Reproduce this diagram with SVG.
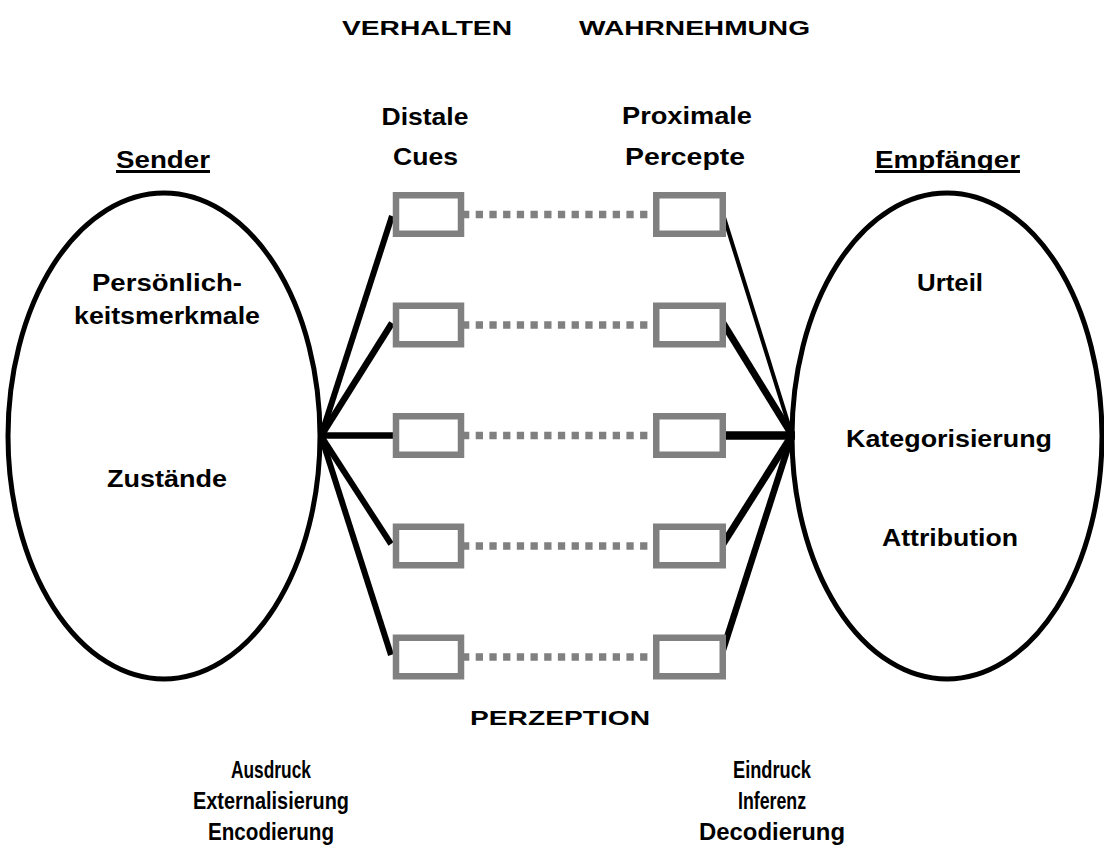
<svg xmlns="http://www.w3.org/2000/svg" width="1104" height="846" viewBox="0 0 1104 846">
<style>
.t{font-family:"Liberation Sans",Arial,Helvetica,sans-serif;font-weight:bold;fill:#000;text-anchor:middle}
.h{font-size:20px}
.l{font-size:23px}
.s{font-size:24px}
.box{fill:#fff;stroke:#808080;stroke-width:6.5}
.dot{stroke:#808080;stroke-width:7.5;stroke-dasharray:7.3 6.4;fill:none}
.ln{stroke:#000;stroke-linecap:butt;fill:none}
.ell{fill:#fff;stroke:#000;stroke-width:5}
.ul{stroke:#000;stroke-width:3}
</style>
<rect width="1104" height="846" fill="#fff"/>
<g id="headers">
<text class="t h" x="427" y="35" textLength="170" lengthAdjust="spacingAndGlyphs">VERHALTEN</text>
<text class="t h" x="694.5" y="35" textLength="231" lengthAdjust="spacingAndGlyphs">WAHRNEHMUNG</text>
<text class="t l" x="425" y="125" textLength="87" lengthAdjust="spacingAndGlyphs">Distale</text>
<text class="t l" x="425.5" y="165" textLength="65" lengthAdjust="spacingAndGlyphs">Cues</text>
<text class="t l" x="687" y="124" textLength="130" lengthAdjust="spacingAndGlyphs">Proximale</text>
<text class="t l" x="685" y="165" textLength="120" lengthAdjust="spacingAndGlyphs">Percepte</text>
</g>
<g id="sender">
<ellipse class="ell" cx="164" cy="436" rx="156" ry="243"/>
<text class="t l" x="163" y="168" textLength="94" lengthAdjust="spacingAndGlyphs">Sender</text>
<line class="ul" x1="116" y1="171.5" x2="210" y2="171.5"/>
<text class="t l" x="167" y="291" textLength="150" lengthAdjust="spacingAndGlyphs">Persönlich-</text>
<text class="t l" x="167" y="324" textLength="186" lengthAdjust="spacingAndGlyphs">keitsmerkmale</text>
<text class="t l" x="167" y="487" textLength="120" lengthAdjust="spacingAndGlyphs">Zustände</text>
</g>
<g id="empfaenger">
<ellipse class="ell" cx="947" cy="436" rx="155" ry="243"/>
<text class="t l" x="947.5" y="168" textLength="145" lengthAdjust="spacingAndGlyphs">Empfänger</text>
<line class="ul" x1="875" y1="171.5" x2="1020" y2="171.5"/>
<text class="t l" x="950" y="291" textLength="66" lengthAdjust="spacingAndGlyphs">Urteil</text>
<text class="t l" x="949" y="447" textLength="206" lengthAdjust="spacingAndGlyphs">Kategorisierung</text>
<text class="t l" x="950" y="546" textLength="136" lengthAdjust="spacingAndGlyphs">Attribution</text>
</g>
<g id="connectors">
<line class="dot" x1="462" y1="214.5" x2="656" y2="214.5"/>
<line class="dot" x1="462" y1="325" x2="656" y2="325"/>
<line class="dot" x1="462" y1="435.5" x2="656" y2="435.5"/>
<line class="dot" x1="462" y1="546" x2="656" y2="546"/>
<line class="dot" x1="462" y1="657" x2="656" y2="657"/>
<line class="ln" stroke-width="6" x1="321" y1="436" x2="392" y2="216"/>
<line class="ln" stroke-width="6.5" x1="321" y1="436" x2="392" y2="323"/>
<line class="ln" stroke-width="6.5" x1="318" y1="435.5" x2="394" y2="435.5"/>
<line class="ln" stroke-width="6" x1="321" y1="436" x2="391" y2="544"/>
<line class="ln" stroke-width="6" x1="321" y1="436" x2="391" y2="655"/>
<line class="ln" stroke-width="4" x1="723" y1="214" x2="792" y2="435"/>
<line class="ln" stroke-width="7" x1="723" y1="323" x2="792" y2="435"/>
<line class="ln" stroke-width="8.5" x1="723" y1="435.5" x2="795" y2="435.5"/>
<line class="ln" stroke-width="7" x1="723" y1="544" x2="792" y2="435"/>
<line class="ln" stroke-width="6.5" x1="722" y1="653" x2="792" y2="435"/>
</g>
<g id="distal-cues">
<g id="cue1"><rect class="box" x="396" y="195.25" width="65" height="38.5"/></g>
<g id="cue2"><rect class="box" x="396" y="305.75" width="65" height="38.5"/></g>
<g id="cue3"><rect class="box" x="396" y="416.25" width="65" height="38.5"/></g>
<g id="cue4"><rect class="box" x="396" y="526.75" width="65" height="38.5"/></g>
<g id="cue5"><rect class="box" x="396" y="637.75" width="65" height="38.5"/></g>
</g>
<g id="proximal-percepts">
<g id="percept1"><rect class="box" x="656.25" y="195.25" width="66.5" height="38.5"/></g>
<g id="percept2"><rect class="box" x="656.25" y="305.75" width="66.5" height="38.5"/></g>
<g id="percept3"><rect class="box" x="656.25" y="416.25" width="66.5" height="38.5"/></g>
<g id="percept4"><rect class="box" x="656.25" y="526.75" width="66.5" height="38.5"/></g>
<g id="percept5"><rect class="box" x="656.25" y="637.75" width="66.5" height="38.5"/></g>
</g>
<g id="labels">
<text class="t h" x="560" y="725" textLength="180" lengthAdjust="spacingAndGlyphs">PERZEPTION</text>
<text class="t s" x="271" y="778" textLength="80" lengthAdjust="spacingAndGlyphs">Ausdruck</text>
<text class="t s" x="271" y="809" textLength="156" lengthAdjust="spacingAndGlyphs">Externalisierung</text>
<text class="t s" x="271" y="840" textLength="126" lengthAdjust="spacingAndGlyphs">Encodierung</text>
<text class="t s" x="772" y="778" textLength="78" lengthAdjust="spacingAndGlyphs">Eindruck</text>
<text class="t s" x="772" y="809" textLength="68" lengthAdjust="spacingAndGlyphs">Inferenz</text>
<text class="t s" x="772" y="840" textLength="146" lengthAdjust="spacingAndGlyphs">Decodierung</text>
</g>
</svg>
